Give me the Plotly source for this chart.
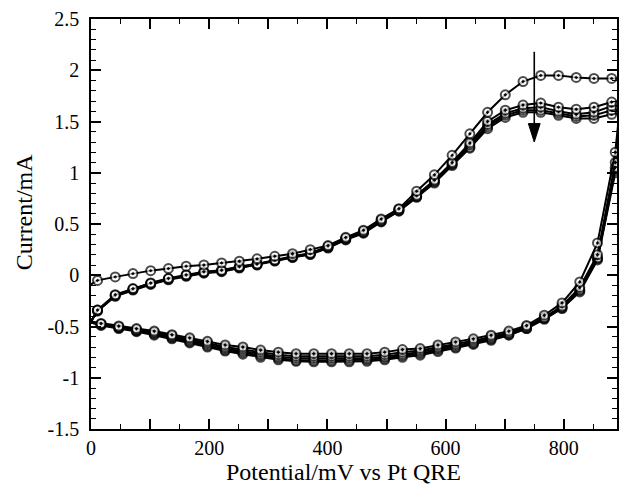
import plotly.graph_objects as go

# ---- data ----
# anodic (upper) branch potentials, mV, ascending; last value = switching vertex (outside axis)
x_up = [0, 11, 41, 71, 101, 131, 161, 191, 221, 251, 281, 311, 341, 371, 401, 431,
        461, 491, 521, 551, 581, 611, 641, 671, 701, 731, 761, 791, 821, 851, 881, 900]
# cathodic (lower) branch potentials, mV, descending from vertex
x_down = [900, 887, 857, 827, 797, 767, 737, 707, 677, 647, 617, 587, 557, 527, 497, 467,
          437, 407, 377, 347, 317, 287, 257, 227, 197, 167, 137, 107, 77, 47, 17, 0]

up_c1 = [-0.09, -0.05, -0.016, 0.016, 0.045, 0.065, 0.088, 0.10, 0.12, 0.137, 0.16, 0.185,
         0.21, 0.25, 0.29, 0.37, 0.44, 0.55, 0.65, 0.82, 0.98, 1.17, 1.38, 1.59, 1.76, 1.89,
         1.95, 1.95, 1.93, 1.92, 1.92, 1.92]
up_c2 = [-0.45, -0.34, -0.19, -0.13, -0.075, -0.03, 0.005, 0.035, 0.05, 0.085, 0.11, 0.15,
         0.185, 0.215, 0.28, 0.36, 0.43, 0.54, 0.645, 0.78, 0.93, 1.10, 1.29, 1.50, 1.61, 1.66,
         1.68, 1.64, 1.62, 1.64, 1.69, 1.70]
up_c3 = [-0.45, -0.34, -0.195, -0.135, -0.08, -0.035, 0.0, 0.03, 0.045, 0.08, 0.107, 0.146,
         0.18, 0.21, 0.275, 0.355, 0.42, 0.53, 0.635, 0.77, 0.92, 1.09, 1.27, 1.47, 1.58, 1.63,
         1.64, 1.60, 1.57, 1.59, 1.65, 1.66]
up_c4 = [-0.45, -0.345, -0.2, -0.14, -0.085, -0.04, -0.005, 0.025, 0.04, 0.075, 0.103, 0.142,
         0.176, 0.206, 0.27, 0.35, 0.415, 0.525, 0.63, 0.765, 0.91, 1.08, 1.25, 1.45, 1.56, 1.61,
         1.61, 1.58, 1.55, 1.56, 1.61, 1.62]
up_c5 = [-0.45, -0.35, -0.205, -0.145, -0.09, -0.045, -0.01, 0.02, 0.035, 0.07, 0.10, 0.138,
         0.172, 0.202, 0.265, 0.345, 0.41, 0.52, 0.625, 0.76, 0.90, 1.07, 1.24, 1.43, 1.54, 1.59,
         1.59, 1.56, 1.53, 1.53, 1.57, 1.58]

down_c1 = [1.92, 1.20, 0.315, -0.065, -0.27, -0.39, -0.49, -0.545, -0.585, -0.62, -0.65, -0.68,
           -0.715, -0.725, -0.75, -0.765, -0.765, -0.765, -0.765, -0.765, -0.75, -0.73, -0.70,
           -0.68, -0.645, -0.61, -0.58, -0.545, -0.52, -0.495, -0.47, -0.45]
down_c2 = [1.70, 1.10, 0.20, -0.12, -0.30, -0.41, -0.50, -0.56, -0.60, -0.64, -0.67, -0.70,
           -0.735, -0.75, -0.775, -0.79, -0.79, -0.79, -0.79, -0.79, -0.775, -0.75, -0.72,
           -0.70, -0.66, -0.625, -0.59, -0.555, -0.53, -0.505, -0.475, -0.455]
down_c3 = [1.66, 1.05, 0.17, -0.14, -0.31, -0.42, -0.51, -0.57, -0.615, -0.655, -0.685, -0.715,
           -0.75, -0.77, -0.795, -0.81, -0.81, -0.81, -0.81, -0.81, -0.795, -0.77, -0.74,
           -0.715, -0.675, -0.64, -0.60, -0.565, -0.54, -0.51, -0.48, -0.46]
down_c4 = [1.62, 1.02, 0.16, -0.15, -0.32, -0.42, -0.52, -0.58, -0.625, -0.665, -0.70, -0.73,
           -0.765, -0.785, -0.81, -0.825, -0.83, -0.83, -0.83, -0.83, -0.81, -0.785, -0.755,
           -0.73, -0.69, -0.65, -0.61, -0.575, -0.545, -0.515, -0.485, -0.46]
down_c5 = [1.58, 1.00, 0.15, -0.163, -0.325, -0.43, -0.52, -0.585, -0.635, -0.675, -0.71, -0.745,
           -0.78, -0.80, -0.825, -0.84, -0.845, -0.845, -0.845, -0.84, -0.825, -0.80, -0.77,
           -0.74, -0.70, -0.66, -0.62, -0.585, -0.55, -0.52, -0.49, -0.46]

cycles_up = [up_c1, up_c2, up_c3, up_c4, up_c5]
cycles_down = [down_c1, down_c2, down_c3, down_c4, down_c5]

x_tickvals = [0, 100, 200, 300, 400, 500, 600, 700, 800]
x_ticktext = ["0", "", "200", "", "400", "", "600", "", "800"]
x_minor = [50, 150, 250, 350, 450, 550, 650, 750, 850]
y_tickvals = [-1.5, -1, -0.5, 0, 0.5, 1, 1.5, 2, 2.5]
y_ticktext = ["-1.5", "-1", "-0.5", "0", "0.5", "1", "1.5", "2", "2.5"]

# arrow (cycle trend) in data units
arrow_x = 750
arrow_top = 2.18
arrow_tip = 1.30
arrow_head_base = 1.48
arrow_head_half = 10

X_RANGE = [0, 890]
Y_RANGE = [-1.5, 2.5]

fig = go.Figure()
font_family = "Liberation Serif"

for up, down in zip(reversed(cycles_up), reversed(cycles_down)):
    xs = x_up + x_down
    ys = up + down
    sizes = [9] * len(xs)
    sizes[0] = 0
    sizes[-1] = 0
    fig.add_trace(go.Scatter(
        x=xs, y=ys, mode="lines+markers",
        line=dict(color="black", width=2),
        marker=dict(symbol="circle-dot", size=sizes, color="white",
                    line=dict(color="black", width=2)),
        showlegend=False, hoverinfo="skip"))

# arrow
fig.add_shape(type="line", xref="x", yref="y", x0=arrow_x, x1=arrow_x,
              y0=arrow_top, y1=arrow_head_base, line=dict(color="black", width=1.6))
fig.add_shape(type="path", xref="x", yref="y",
              path=f"M {arrow_x - arrow_head_half},{arrow_head_base} L {arrow_x + arrow_head_half},{arrow_head_base} L {arrow_x},{arrow_tip} Z",
              fillcolor="black", line=dict(color="black", width=1))

axis_common = dict(showgrid=False, zeroline=False, showline=True, linecolor="black",
                   linewidth=1.6, mirror="ticks", ticks="inside", ticklen=10,
                   tickwidth=1.5, tickcolor="black",
                   tickfont=dict(family=font_family, size=20, color="black"))

fig.update_xaxes(range=X_RANGE, tickmode="array", tickvals=x_tickvals, ticktext=x_ticktext,
                 minor=dict(tickmode="array", tickvals=x_minor, ticks="inside", ticklen=5,
                            tickwidth=1.3, tickcolor="black"),
                 ticklabelstandoff=0,
                 **axis_common)
fig.update_yaxes(range=Y_RANGE, tickmode="array", tickvals=y_tickvals, ticktext=y_ticktext,
                 minor=dict(dtick=0.1, tick0=0, ticks="inside", ticklen=5,
                            tickwidth=1.3, tickcolor="black"),
                 ticklabelstandoff=6,
                 **axis_common)

fig.add_annotation(text="Potential/mV vs Pt QRE", xref="paper", yref="paper",
                   x=0.48, y=-0.068, xanchor="center", yanchor="top", showarrow=False,
                   font=dict(family=font_family, size=24, color="black"))
fig.add_annotation(text="Current/mA", xref="paper", yref="paper",
                   x=-0.128, y=0.53, xanchor="center", yanchor="middle", textangle=-90,
                   showarrow=False, font=dict(family=font_family, size=24, color="black"))

fig.update_layout(width=621, height=484, margin=dict(l=91, r=2, t=19, b=55),
                  plot_bgcolor="white", paper_bgcolor="white")

fig.write_html("out.html")
